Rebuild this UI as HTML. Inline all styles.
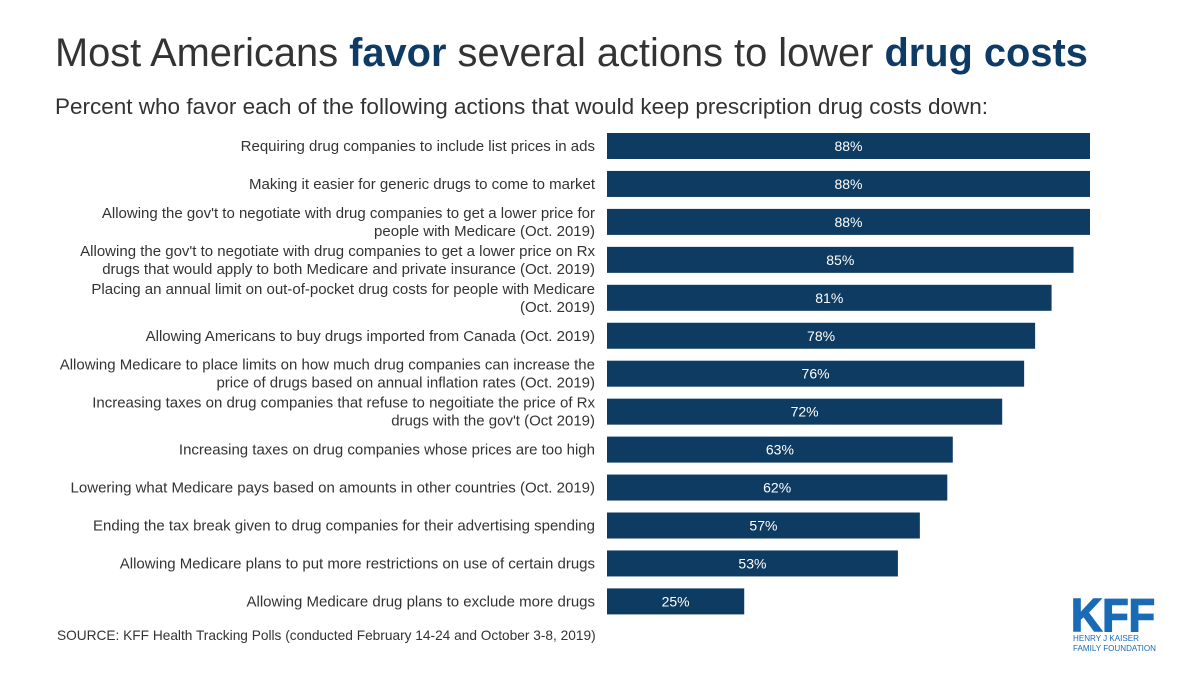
<!DOCTYPE html>
<html><head><meta charset="utf-8"><style>
body{margin:0;background:#fff;}
svg{display:block;font-family:"Liberation Sans",Arial,sans-serif;}
</style></head><body>
<svg id="chart" width="1200" height="675" viewBox="0 0 1200 675">
<text x="55" y="66" font-size="39.8" fill="#333">Most Americans <tspan fill="#0d3b66" font-weight="bold">favor</tspan> several actions to lower <tspan fill="#0d3b66" font-weight="bold">drug costs</tspan></text>
<text x="55" y="114" font-size="22.5" fill="#333">Percent who favor each of the following actions that would keep prescription drug costs down:</text>
<g id="bars"></g>
<text x="57" y="640" font-size="13.7" fill="#333">SOURCE: KFF Health Tracking Polls (conducted February 14-24 and October 3-8, 2019)</text>
<g>
<text x="1071" y="631" font-size="46" font-weight="bold" fill="#1a6bb5" stroke="#1a6bb5" stroke-width="1.5" textLength="84" lengthAdjust="spacingAndGlyphs">KFF</text>
<text x="1073" y="641" font-size="8.5" fill="#1a6bb5" textLength="66" lengthAdjust="spacingAndGlyphs">HENRY J KAISER</text>
<text x="1073" y="651" font-size="8.5" fill="#1a6bb5" textLength="83" lengthAdjust="spacingAndGlyphs">FAMILY FOUNDATION</text>
</g>
</svg>
<script>
const categories = [
["Requiring drug companies to include list prices in ads"],
["Making it easier for generic drugs to come to market"],
["Allowing the gov't to negotiate with drug companies to get a lower price for","people with Medicare (Oct. 2019)"],
["Allowing the gov't to negotiate with drug companies to get a lower price on Rx","drugs that would apply to both Medicare and private insurance (Oct. 2019)"],
["Placing an annual limit on out-of-pocket drug costs for people with Medicare","(Oct. 2019)"],
["Allowing Americans to buy drugs imported from Canada (Oct. 2019)"],
["Allowing Medicare to place limits on how much drug companies can increase the","price of drugs based on annual inflation rates (Oct. 2019)"],
["Increasing taxes on drug companies that refuse to negoitiate the price of Rx","drugs with the gov't (Oct 2019)"],
["Increasing taxes on drug companies whose prices are too high"],
["Lowering what Medicare pays based on amounts in other countries (Oct. 2019)"],
["Ending the tax break given to drug companies for their advertising spending"],
["Allowing Medicare plans to put more restrictions on use of certain drugs"],
["Allowing Medicare drug plans to exclude more drugs"]
];
const values = [88,88,88,85,81,78,76,72,63,62,57,53,25];
const ns="http://www.w3.org/2000/svg";
const g=document.getElementById('bars');
const x0=607, pxPer=483/88;
const xScale=v=>x0+v*pxPer;
const yScale=i=>146+i*37.95;
values.forEach((v,i)=>{
  const cy=yScale(i);
  const r=document.createElementNS(ns,'rect');
  r.setAttribute('x',x0);r.setAttribute('y',cy-13);
  r.setAttribute('width',xScale(v)-x0);r.setAttribute('height',26);
  r.setAttribute('fill','#0d3b62');
  
  
  g.appendChild(r);
  const t=document.createElementNS(ns,'text');
  t.setAttribute('x',(x0+xScale(v))/2);t.setAttribute('y',cy+5);
  t.setAttribute('text-anchor','middle');t.setAttribute('fill','#fff');t.setAttribute('font-size','14');
  t.textContent=v+'%';
  
  
  g.appendChild(t);
  const lines=categories[i];
  lines.forEach((ln,j)=>{
    const l=document.createElementNS(ns,'text');
    const off=lines.length===1?5:(j===0?-4:14);
    l.setAttribute('x',595);l.setAttribute('y',cy+off);
    l.setAttribute('text-anchor','end');l.setAttribute('fill','#333');l.setAttribute('font-size','15');
    l.textContent=ln;
    
    
    g.appendChild(l);
  });
});
</script>
</body></html>
